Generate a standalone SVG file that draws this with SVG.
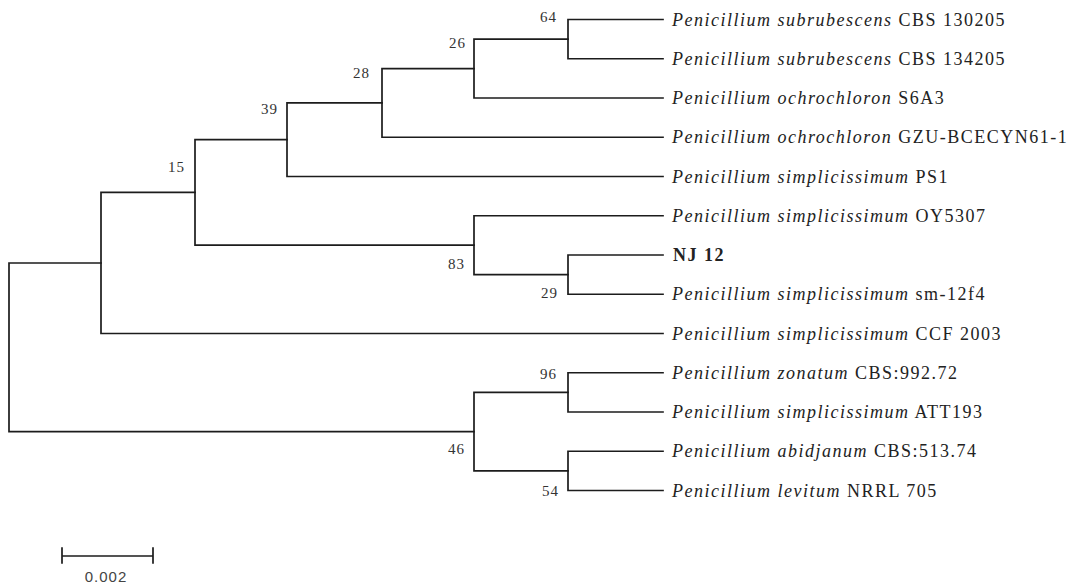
<svg xmlns="http://www.w3.org/2000/svg" width="1075" height="586" viewBox="0 0 1075 586">
  <style>
    .br { fill: none; stroke: #1c1c1c; stroke-width: 1.7; stroke-linecap: square; }
    .tax { font-family: "Liberation Serif", "Times New Roman", serif; font-size: 18px; letter-spacing: 1.5px; fill: #222; }
    .sp { font-style: italic; }
    .bold { font-weight: bold; }
    .bs { font-family: "Liberation Serif", "Times New Roman", serif; font-size: 15px; letter-spacing: 1px; fill: #333; text-anchor: end; }
    .scale { font-family: "Liberation Sans", Arial, sans-serif; font-size: 15px; letter-spacing: 1px; fill: #444; text-anchor: middle; }
  </style>
  <rect width="1075" height="586" fill="#fff"/>

  <!-- branches of the tree -->
  <g id="connectors" class="br">
    <!-- root -->
    <path d="M101 263 H9 V431.6 H474"/>
    <!-- node joining clade 15 and CCF 2003 -->
    <path d="M195 192.4 H101 V333.5 H663"/>
    <!-- node 15 -->
    <path d="M287 139.7 H195 V245.2 H474"/>
    <!-- node 39 -->
    <path d="M382 102.9 H287 V176.5 H663"/>
    <!-- node 28 -->
    <path d="M474 68.6 H382 V137.25 H663"/>
    <!-- node 26 -->
    <path d="M568 39.1 H474 V98 H663"/>
    <!-- node 64 -->
    <path d="M663 19.5 H568 V58.75 H663"/>
    <!-- node 83 -->
    <path d="M663 215.75 H474 V274.6 H568"/>
    <!-- node 29 -->
    <path d="M663 255 H568 V294.25 H663"/>
    <!-- node 46 -->
    <path d="M568 392.4 H474 V470.9 H568"/>
    <!-- node 96 -->
    <path d="M663 372.75 H568 V412 H663"/>
    <!-- node 54 -->
    <path d="M663 451.25 H568 V490.5 H663"/>
  </g>

  <!-- internal nodes with bootstrap values -->
  <g id="node-64"><text class="bs" x="557" y="22">64</text></g>
  <g id="node-26"><text class="bs" x="466" y="48">26</text></g>
  <g id="node-28"><text class="bs" x="370" y="78">28</text></g>
  <g id="node-39"><text class="bs" x="278" y="114">39</text></g>
  <g id="node-15"><text class="bs" x="185" y="172">15</text></g>
  <g id="node-83"><text class="bs" x="465" y="269">83</text></g>
  <g id="node-29"><text class="bs" x="558" y="298">29</text></g>
  <g id="node-96"><text class="bs" x="557" y="379">96</text></g>
  <g id="node-46"><text class="bs" x="465" y="454">46</text></g>
  <g id="node-54"><text class="bs" x="559" y="496">54</text></g>

  <!-- taxa -->
  <g id="taxon-subrubescens-130205"><text class="tax" x="672" y="25.5"><tspan class="sp">Penicillium subrubescens</tspan> CBS 130205</text></g>
  <g id="taxon-subrubescens-134205"><text class="tax" x="672" y="64.75"><tspan class="sp">Penicillium subrubescens</tspan> CBS 134205</text></g>
  <g id="taxon-ochrochloron-s6a3"><text class="tax" x="672" y="104"><tspan class="sp">Penicillium ochrochloron</tspan> S6A3</text></g>
  <g id="taxon-ochrochloron-gzu"><text class="tax" x="672" y="143.25"><tspan class="sp">Penicillium ochrochloron</tspan> GZU-BCECYN61-1</text></g>
  <g id="taxon-simplicissimum-ps1"><text class="tax" x="672" y="182.5"><tspan class="sp">Penicillium simplicissimum</tspan> PS1</text></g>
  <g id="taxon-simplicissimum-oy5307"><text class="tax" x="672" y="221.75"><tspan class="sp">Penicillium simplicissimum</tspan> OY5307</text></g>
  <g id="taxon-nj12"><text class="tax bold" x="673" y="261">NJ 12</text></g>
  <g id="taxon-simplicissimum-sm12f4"><text class="tax" x="672" y="300.25"><tspan class="sp">Penicillium simplicissimum</tspan> sm-12f4</text></g>
  <g id="taxon-simplicissimum-ccf2003"><text class="tax" x="672" y="339.5"><tspan class="sp">Penicillium simplicissimum</tspan> CCF 2003</text></g>
  <g id="taxon-zonatum"><text class="tax" x="672" y="378.75"><tspan class="sp">Penicillium zonatum</tspan> CBS:992.72</text></g>
  <g id="taxon-simplicissimum-att193"><text class="tax" x="672" y="418"><tspan class="sp">Penicillium simplicissimum</tspan> ATT193</text></g>
  <g id="taxon-abidjanum"><text class="tax" x="672" y="457.25"><tspan class="sp">Penicillium abidjanum</tspan> CBS:513.74</text></g>
  <g id="taxon-levitum"><text class="tax" x="672" y="496.5"><tspan class="sp">Penicillium levitum</tspan> NRRL 705</text></g>

  <!-- scale bar -->
  <g id="scale-bar">
    <path class="br" d="M62 556 H153 M62 548 V563 M153 548 V563"/>
    <text class="scale" x="106" y="582">0.002</text>
  </g>
</svg>
